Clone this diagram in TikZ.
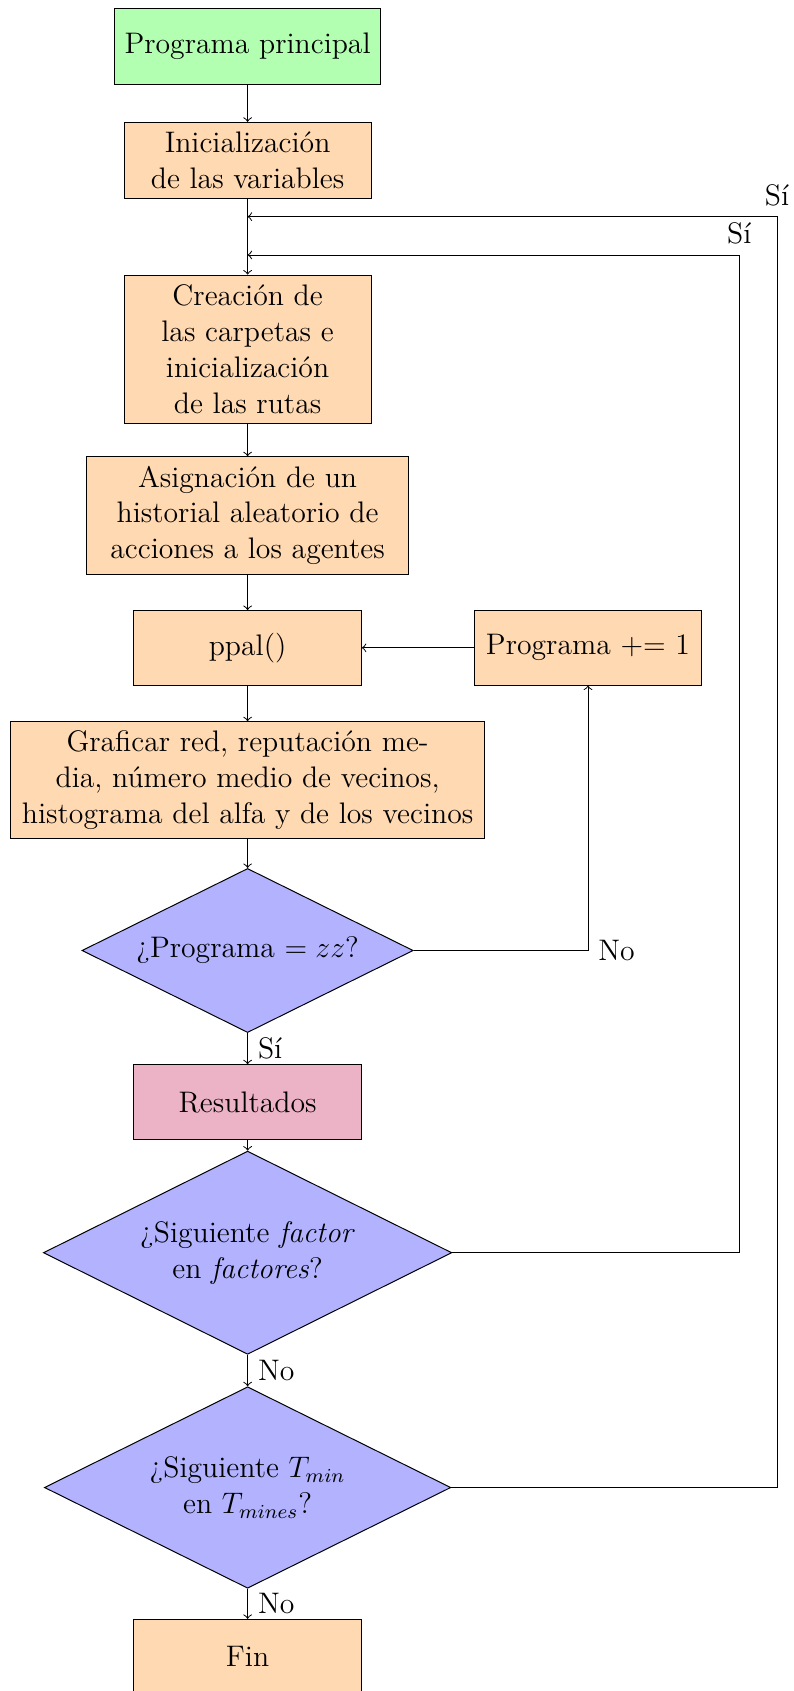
\documentclass[tikz,border=0pt]{standalone}
\usetikzlibrary{shapes.geometric}
\begin{document}
\begin{tikzpicture}[x=0.404pt,y=-0.404pt,
  font=\fontsize{12}{14.5}\selectfont,
  box/.style={draw, rectangle, align=center, inner sep=0pt},
  dec/.style={draw, diamond, aspect=2, align=center, inner sep=0pt, fill=blue!30},
  conn/.style={->},
  lbl/.style={inner sep=4pt}]
\useasboundingbox (0,0) rectangle (794,1691);
\node[box, fill=green!30, minimum width=107.6pt, minimum height=30.7pt] (prog) at (247.6,46.7) {Programa principal};
\node[box, fill=orange!30, minimum width=99.7pt, minimum height=30.6pt] (init) at (247.6,160.2) {Inicialización\\de las variables};
\node[box, fill=orange!30, minimum width=99.7pt, minimum height=59.9pt] (crea) at (247.6,349.2) {Creación de\\las carpetas e\\inicialización\\de las rutas};
\node[box, fill=orange!30, minimum width=130.2pt, minimum height=47.4pt] (asig) at (247.6,515.4) {Asignación de un\\historial aleatorio de\\acciones a los agentes};
\node[box, fill=orange!30, minimum width=91.9pt, minimum height=30.1pt] (ppal) at (247.6,647.8) {ppal()};
\node[box, fill=orange!30, minimum width=91.5pt, minimum height=30.1pt] (prog1) at (588,647.8) {Programa += 1};
\node[box, fill=orange!30, minimum width=191.3pt, minimum height=47.1pt] (graf) at (247.6,780) {Graficar red, reputación me-\\dia, número medio de vecinos,\\histograma del alfa y de los vecinos};
\node[dec, minimum width=133.8pt, minimum height=66.3pt] (dec1) at (247.6,950.5) {¿Programa $= zz$?};
\node[box, fill=purple!30, minimum width=91.9pt, minimum height=30.1pt] (res) at (247.6,1102) {Resultados};
\node[dec, minimum width=165pt, minimum height=82.1pt] (dec2) at (247.6,1252.7) {¿Siguiente \textit{factor}\\en \textit{factores}?};
\node[dec, minimum width=164.2pt, minimum height=81.4pt] (dec3) at (247.6,1487.5) {¿Siguiente $T_{min}$\\en $T_{mines}$?};
\node[box, fill=orange!30, minimum width=91.9pt, minimum height=30.1pt] (fin) at (247.6,1656.6) {Fin};

\coordinate (j1) at (247.6,216.7);
\coordinate (j2) at (247.6,255);
\coordinate (c3) at (777,216.7);
\coordinate (c2) at (739.3,255);

\draw[conn] (prog) -- (init);
\draw[conn] (init) -- (crea);
\draw[conn] (crea) -- (asig);
\draw[conn] (asig) -- (ppal);
\draw[conn] (ppal) -- (graf);
\draw[conn] (graf) -- (dec1);
\draw[conn] (dec1) -- node[lbl, right] {Sí} (res);
\draw[conn] (res) -- (dec2);
\draw[conn] (dec2) -- node[lbl, right] {No} (dec3);
\draw[conn] (dec3) -- node[lbl, right] {No} (fin);
\draw[conn] (prog1) -- (ppal);
\draw[conn] (dec1.east) -| node[lbl, pos=0.5, right] {No} (prog1.south);
\draw[conn] (dec2.east) -| (c2) -- (j2);
\node[lbl, above] (s2) at (c2) {Sí};
\draw[conn] (dec3.east) -| (c3) -- (j1);
\node[lbl, above] (s3) at (c3) {Sí};
\end{tikzpicture}
\end{document}
